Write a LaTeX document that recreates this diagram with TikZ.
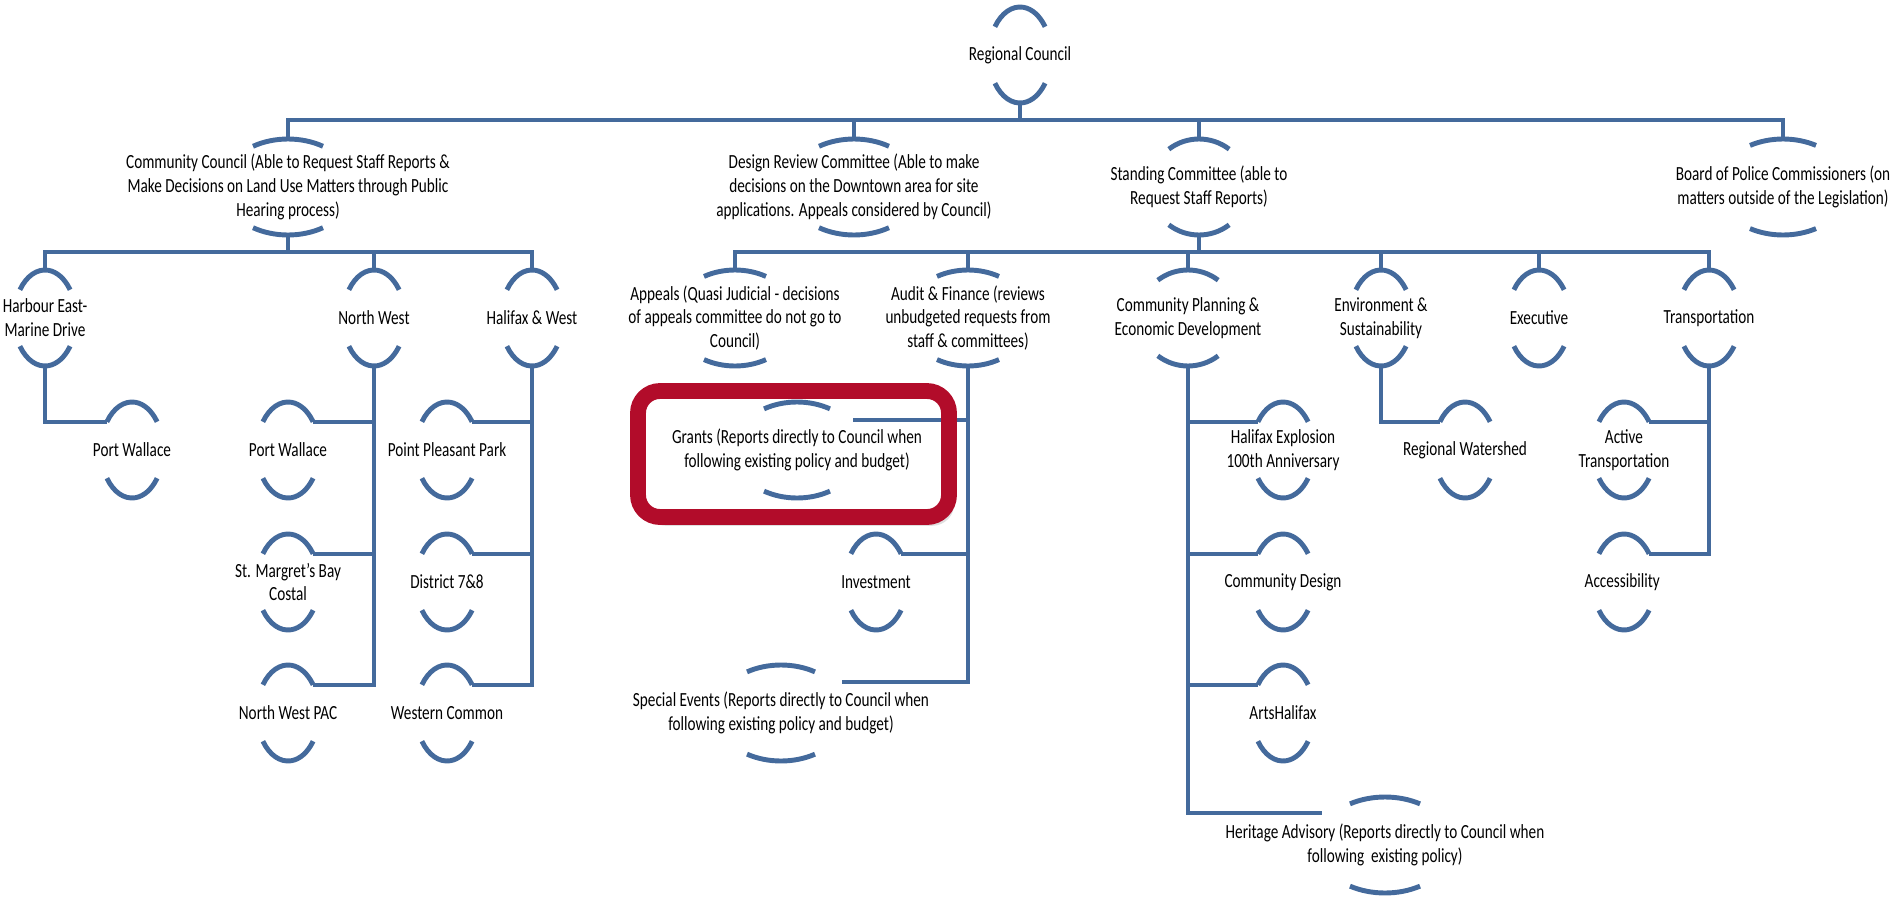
\documentclass[tikz,border=0pt]{standalone}
\usepackage{fontspec}
\setmainfont{Carlito}[FakeStretch=0.76]
\usepackage{tikz}
\usetikzlibrary{calc,shadows}
\definecolor{orgblue}{RGB}{68,106,156}
\definecolor{boxred}{RGB}{178,12,42}

\begin{document}
\begin{tikzpicture}[x=0.01cm,y=0.01cm,
lbl/.style={align=center,inner sep=0pt,font=\fontsize{5.7pt}{6.8pt}\selectfont},
link/.style={draw=orgblue,line width=1.25pt},
arcline/.style={draw=orgblue,line width=1.4pt},
redbox/.style={draw=boxred,line width=4.5pt,rounded corners=0.22cm}]
\useasboundingbox (0,0) rectangle (1893,-897);
\def\ry{48}
\fill[white,rounded corners=0.22cm,drop shadow={shadow xshift=1.5pt,shadow yshift=-2.5pt,opacity=0.25}] (638,-391) rectangle (949,-517);
\foreach \nm/\x/\y/\rx/\ph/\txt in {
rc/1020/55/31/54/{Regional Council},
cc/288/187/66/32/{Community Council (Able to Request Staff Reports \&\\Make Decisions on Land Use Matters through Public\\Hearing process)},
drc/854/187/66/32/{Design Review Committee (Able to make\\decisions on the Downtown area for site\\applications. Appeals considered by Council)},
sc/1199/187/49/38/{Standing Committee (able to\\Request Staff Reports)},
bpc/1783/187/66/30/{Board of Police Commissioners (on\\matters outside of the Legislation)},
he/45/318/31/54/{Harbour East-\\Marine Drive},
nw/374/318/31/54/{North West},
hw/532/318/31/54/{Halifax \& West},
ap/735/318/62/30/{Appeals (Quasi Judicial - decisions\\of appeals committee do not go to\\Council)},
af/968/318/62/30/{Audit \& Finance (reviews\\unbudgeted requests from\\staff \& committees)},
cp/1188/318/49/38/{Community Planning \&\\Economic Development},
es/1381/318/31/54/{Environment \&\\Sustainability},
ex/1539/318/31/54/{Executive},
tr/1709/318/31/54/{Transportation},
pw1/132/450/31/54/{Port Wallace},
pw2/288/450/31/54/{Port Wallace},
smb/288/582/31/54/{St. Margret's Bay\\Costal},
nwp/288/713/31/54/{North West PAC},
ppp/447/450/31/54/{Point Pleasant Park},
dst/447/582/31/54/{District 7\&8},
wc/447/713/31/54/{Western Common},
gr/797/450/64/31/{Grants (Reports directly to Council when\\following existing policy and budget)},
inv/876/582/31/54/{Investment},
se/781/713/66/31/{Special Events (Reports directly to Council when\\following existing policy and budget)},
hx/1283/450/31/54/{Halifax Explosion\\100th Anniversary},
cd/1283/582/31/54/{Community Design},
ah/1283/713/31/54/{ArtsHalifax},
ha/1385/845/68/31/{Heritage Advisory (Reports directly to Council when\\following\ \ existing policy)},
rw/1465/450/31/54/{Regional Watershed},
at/1624/450/31/54/{Active\\Transportation},
acc/1624/582/31/54/{Accessibility}
}{
\node[lbl] (\nm) at (\x,-\y) {\txt};
\draw[arcline] ($(\nm)+({90+\ph}:{\rx} and {\ry})$) arc[start angle=90+\ph,end angle=90-\ph,x radius=\rx,y radius=\ry];
\draw[arcline] ($(\nm)+({270-\ph}:{\rx} and {\ry})$) arc[start angle=270-\ph,end angle=270+\ph,x radius=\rx,y radius=\ry];
\coordinate (\nm-t) at ($(\nm)+(0,\ry)$);
\coordinate (\nm-b) at ($(\nm)+(0,-\ry)$);
\coordinate (\nm-l) at ($(\nm)+({90+\ph}:{\rx} and {\ry})$);
\coordinate (\nm-r) at ($(\nm)+({90-\ph}:{\rx} and {\ry})$);
}
\coordinate (gr-r) at ($(gr)+(56,30)$);
\coordinate (se-r) at ($(se)+(61,31)$);
\coordinate (ha-l) at ($(ha)+(-63,32)$);
\coordinate (bus0) at (0,-120);
\coordinate (bus1) at (0,-252);
\draw[link] (cc-t) |- (rc-b |- bus0) -| (bpc-t);
\draw[link] (rc-b) -- (rc-b |- bus0);
\foreach \c in {drc,sc}
\draw[link] (\c-t) -- (\c-t |- bus0);
\draw[link] (he-t) |- (cc-b |- bus1) -| (hw-t);
\draw[link] (cc-b) -- (cc-b |- bus1);
\draw[link] (nw-t) -- (nw-t |- bus1);
\draw[link] (ap-t) |- (sc-b |- bus1) -| (tr-t);
\draw[link] (sc-b) -- (sc-b |- bus1);
\foreach \c in {af,cp,es,ex}
\draw[link] (\c-t) -- (\c-t |- bus1);
\draw[link] (he-b) |- (pw1-l);
\draw[link] (nw-b) |- (nwp-r);
\foreach \c in {pw2,smb}
\draw[link] (\c-r) -- (\c-r -| nw-b);
\draw[link] (hw-b) |- (wc-r);
\foreach \c in {ppp,dst}
\draw[link] (\c-r) -- (\c-r -| hw-b);
\draw[link] (af-b) |- (se-r);
\foreach \c in {gr,inv}
\draw[link] (\c-r) -- (\c-r -| af-b);
\draw[link] (cp-b) |- (ha-l);
\foreach \c in {hx,cd,ah}
\draw[link] (\c-l) -- (\c-l -| cp-b);
\draw[link] (es-b) |- (rw-l);
\draw[link] (tr-b) |- (acc-r);
\draw[link] (at-r) -- (at-r -| tr-b);
\draw[redbox] (638,-391) rectangle (949,-517);
\end{tikzpicture}
\end{document}
